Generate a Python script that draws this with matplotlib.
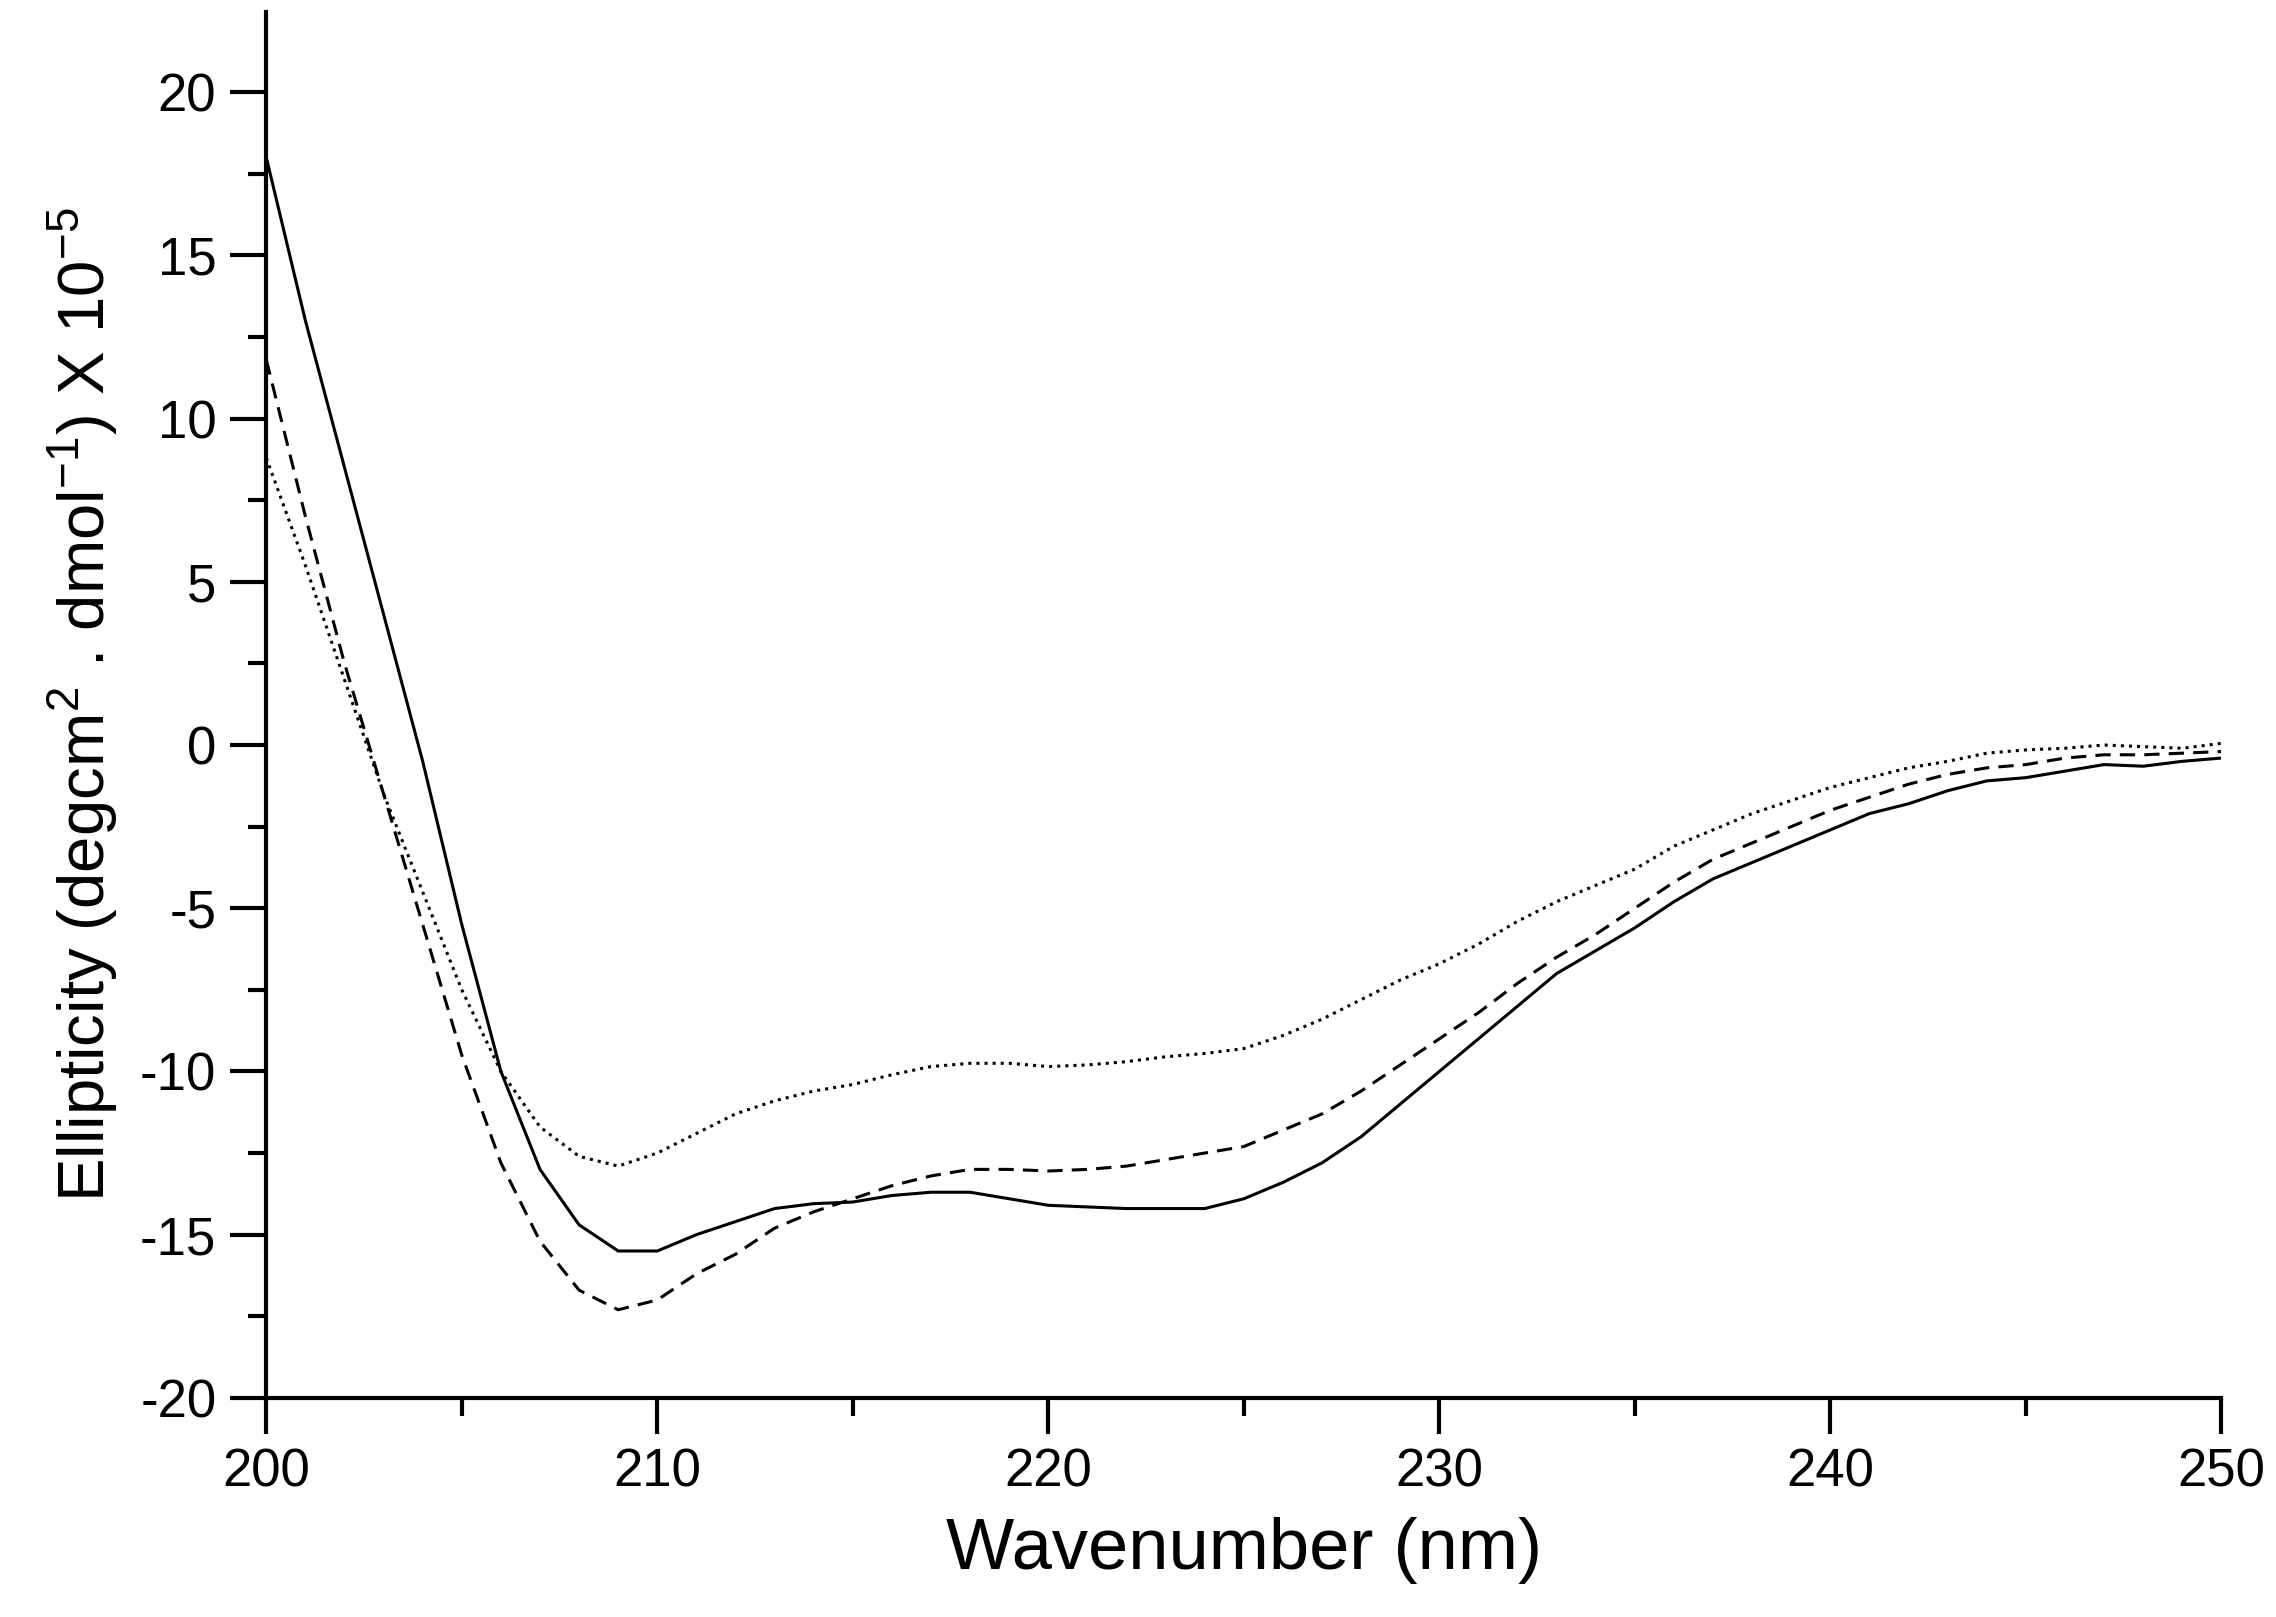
import matplotlib.pyplot as plt
import matplotlib
from matplotlib.ticker import MultipleLocator

matplotlib.rcParams['font.family'] = ['Liberation Sans', 'DejaVu Sans']
matplotlib.rcParams['axes.unicode_minus'] = False
matplotlib.rcParams['mathtext.fontset'] = 'custom'
matplotlib.rcParams['mathtext.rm'] = 'Liberation Sans'

wl = list(range(200, 251))
solid = [18, 13, 8.5, 4, -0.5, -5.5, -10, -13, -14.7, -15.5, -15.5, -15, -14.6, -14.2, -14.05, -14.0, -13.8,
         -13.7, -13.7, -13.9, -14.1, -14.15, -14.2, -14.2, -14.2, -13.9, -13.4, -12.8, -12.0, -11.0, -10.0,
         -9.0, -8.0, -7.0, -6.3, -5.6, -4.8, -4.1, -3.6, -3.1, -2.6, -2.1, -1.8, -1.4, -1.1, -1.0, -0.8,
         -0.6, -0.65, -0.5, -0.4]
dashed = [11.8, 7, 2.5, -1.5, -5.5, -9.5, -12.8, -15.2, -16.7, -17.3, -17.0, -16.2, -15.6, -14.8, -14.3,
          -13.9, -13.5, -13.2, -13.0, -13.0, -13.05, -13.0, -12.9, -12.7, -12.5, -12.3, -11.8, -11.3, -10.6,
          -9.8, -9.0, -8.2, -7.3, -6.5, -5.8, -5.0, -4.2, -3.5, -3.0, -2.5, -2.0, -1.6, -1.2, -0.9, -0.7,
          -0.6, -0.4, -0.3, -0.3, -0.25, -0.2]
dotted = [8.8, 5.5, 2, -1.5, -4.5, -7.5, -10, -11.7, -12.6, -12.9, -12.5, -11.9, -11.3, -10.9, -10.6, -10.4,
          -10.1, -9.85, -9.75, -9.75, -9.85, -9.8, -9.7, -9.55, -9.45, -9.3, -8.9, -8.4, -7.8, -7.2, -6.7,
          -6.1, -5.4, -4.8, -4.3, -3.8, -3.1, -2.6, -2.1, -1.7, -1.3, -1.0, -0.7, -0.5, -0.25, -0.15, -0.1,
          0, -0.05, -0.1, 0.05]

fig = plt.figure(figsize=(22.76, 16.17), dpi=100)
ax = fig.add_axes([0.117, 0.1355, 0.859, 0.857])

ax.plot(wl, solid, 'k-', lw=2.2)
ax.plot(wl, dashed, 'k--', lw=2.2, dashes=(5, 3))
ax.plot(wl, dotted, 'k:', lw=2.2)

ax.set_xlim(200, 250)
ax.set_ylim(-20, 22.45)
ax.xaxis.set_major_locator(MultipleLocator(10))
ax.xaxis.set_minor_locator(MultipleLocator(5))
ax.yaxis.set_major_locator(MultipleLocator(5))
ax.yaxis.set_minor_locator(MultipleLocator(2.5))
for s in ['top', 'right']:
    ax.spines[s].set_visible(False)
for s in ['left', 'bottom']:
    ax.spines[s].set_linewidth(3)
ax.tick_params(which='major', direction='out', length=26, width=3, labelsize=38, pad=10)
ax.tick_params(which='minor', direction='out', length=13, width=3)

ax.set_xlabel('Wavenumber (nm)', fontsize=52, labelpad=14)
ax.set_ylabel(r'Ellipticity (degcm$^{\mathrm{2}}$ . dmol$^{\mathrm{-1}}$) X 10$^{\mathrm{-5}}$',
              fontsize=47, labelpad=14)

plt.savefig('out.png', dpi=100)
